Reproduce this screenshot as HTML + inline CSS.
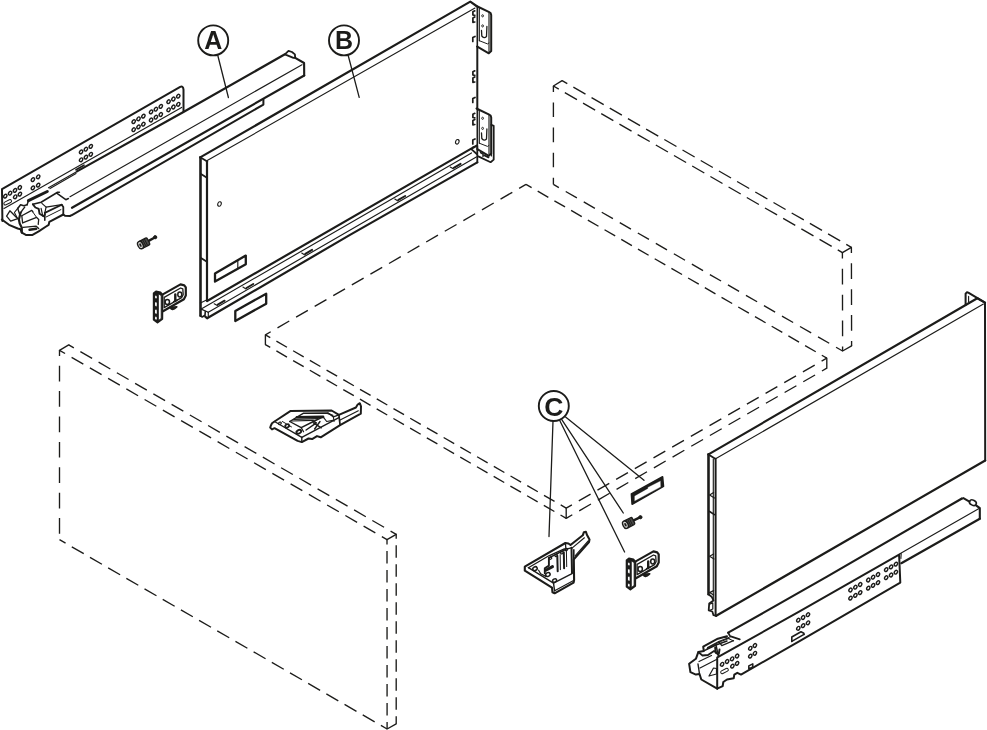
<!DOCTYPE html>
<html><head><meta charset="utf-8"><title>Drawer assembly</title>
<style>
html,body{margin:0;padding:0;background:#fff;}
body{width:987px;height:730px;overflow:hidden;font-family:"Liberation Sans",sans-serif;}
svg{display:block;}
text{font-family:"Liberation Sans",sans-serif;}
svg{will-change:transform;}
</style></head><body>
<svg width="987" height="730" viewBox="0 0 987 730">
<rect width="987" height="730" fill="#fff"/>
<line x1="59.5" y1="350.3" x2="68.7" y2="344.9" stroke="#1c1c1a" stroke-width="1.35" stroke-linecap="round"/>
<line x1="68.7" y1="344.9" x2="396.2" y2="534.3" stroke="#1c1c1a" stroke-width="1.35" stroke-dasharray="13.55 7.53" stroke-dashoffset="7.6"/>
<line x1="59.5" y1="350.3" x2="387.0" y2="539.6" stroke="#1c1c1a" stroke-width="1.35" stroke-dasharray="13.55 7.53" stroke-dashoffset="7.1"/>
<line x1="387.0" y1="539.6" x2="396.2" y2="534.3" stroke="#1c1c1a" stroke-width="1.35" stroke-linecap="round"/>
<line x1="59.5" y1="350.3" x2="59.5" y2="539.7" stroke="#1c1c1a" stroke-width="1.35" stroke-dasharray="15.7 9.7" stroke-dashoffset="10.0"/>
<line x1="59.5" y1="539.7" x2="387.1" y2="729.0" stroke="#1c1c1a" stroke-width="1.35" stroke-dasharray="13.8 7.2" stroke-dashoffset="6.8"/>
<line x1="387.0" y1="539.6" x2="387.1" y2="729.0" stroke="#1c1c1a" stroke-width="1.35" stroke-dasharray="12.6 6.4" stroke-dashoffset="7.6"/>
<line x1="396.2" y1="534.3" x2="396.2" y2="723.8" stroke="#1c1c1a" stroke-width="1.35" stroke-dasharray="12.6 6.4" stroke-dashoffset="8.1"/>
<line x1="387.1" y1="729.0" x2="396.2" y2="723.8" stroke="#1c1c1a" stroke-width="1.35" stroke-linecap="round"/>
<line x1="265.4" y1="334.8" x2="265.4" y2="344.6" stroke="#1c1c1a" stroke-width="1.35" stroke-linecap="round"/>
<line x1="265.4" y1="334.8" x2="526.0" y2="184.4" stroke="#1c1c1a" stroke-width="1.35" stroke-dasharray="13.6 7.86" stroke-dashoffset="7.5"/>
<line x1="526.0" y1="184.4" x2="826.8" y2="358.1" stroke="#1c1c1a" stroke-width="1.35" stroke-dasharray="12.3 7.0" stroke-dashoffset="5.8"/>
<line x1="265.4" y1="334.8" x2="566.2" y2="508.1" stroke="#1c1c1a" stroke-width="1.35" stroke-dasharray="12.2 7.1" stroke-dashoffset="6.6"/>
<line x1="265.4" y1="344.6" x2="566.2" y2="518.3" stroke="#1c1c1a" stroke-width="1.35" stroke-dasharray="12.2 7.1" stroke-dashoffset="6.6"/>
<line x1="826.8" y1="358.1" x2="566.2" y2="508.1" stroke="#1c1c1a" stroke-width="1.35" stroke-dasharray="13.6 7.95" stroke-dashoffset="7.6"/>
<line x1="826.8" y1="368.2" x2="566.2" y2="518.3" stroke="#1c1c1a" stroke-width="1.35" stroke-dasharray="13.6 7.95" stroke-dashoffset="8.0"/>
<line x1="826.8" y1="358.1" x2="826.8" y2="368.2" stroke="#1c1c1a" stroke-width="1.35" stroke-linecap="round"/>
<line x1="566.2" y1="508.1" x2="566.2" y2="518.3" stroke="#1c1c1a" stroke-width="1.35" stroke-linecap="round"/>
<line x1="553.4" y1="86.0" x2="562.1" y2="80.6" stroke="#1c1c1a" stroke-width="1.35" stroke-linecap="round"/>
<line x1="562.1" y1="80.6" x2="851.4" y2="247.4" stroke="#1c1c1a" stroke-width="1.35" stroke-dasharray="14.0 7.0" stroke-dashoffset="8.0"/>
<line x1="553.4" y1="86.0" x2="842.4" y2="252.6" stroke="#1c1c1a" stroke-width="1.35" stroke-dasharray="14.0 7.0" stroke-dashoffset="7.8"/>
<line x1="842.4" y1="252.6" x2="851.4" y2="247.4" stroke="#1c1c1a" stroke-width="1.35" stroke-linecap="round"/>
<line x1="553.4" y1="86.0" x2="553.4" y2="184.4" stroke="#1c1c1a" stroke-width="1.35" stroke-dasharray="14.6 10.5" stroke-dashoffset="8.6"/>
<line x1="553.4" y1="184.4" x2="842.6" y2="351.0" stroke="#1c1c1a" stroke-width="1.35" stroke-dasharray="12.9 7.9" stroke-dashoffset="6.6"/>
<line x1="842.4" y1="252.6" x2="842.6" y2="351.0" stroke="#1c1c1a" stroke-width="1.35" stroke-dasharray="15.7 10.2" stroke-dashoffset="9.7"/>
<line x1="851.4" y1="247.4" x2="851.6" y2="345.9" stroke="#1c1c1a" stroke-width="1.35" stroke-dasharray="15.7 10.2" stroke-dashoffset="10.0"/>
<line x1="842.6" y1="351.0" x2="851.6" y2="345.9" stroke="#1c1c1a" stroke-width="1.35" stroke-linecap="round"/>
<polyline points="200.2,157.4 470.3,1.6 476.5,6.0" fill="none" stroke="#1c1c1a" stroke-width="2.2" stroke-linejoin="round" stroke-linecap="round" />
<line x1="207.2" y1="160.6" x2="475.0" y2="8.0" stroke="#1c1c1a" stroke-width="1.15" stroke-linecap="round"/>
<polyline points="200.5,157.4 200.5,315.8" fill="none" stroke="#1c1c1a" stroke-width="2.6" stroke-linejoin="round" stroke-linecap="round" />
<polyline points="200.2,157.2 206.9,161.3" fill="none" stroke="#1c1c1a" stroke-width="1.8" stroke-linejoin="round" stroke-linecap="round" />
<polyline points="207.0,161.3 207.0,300.6" fill="none" stroke="#1c1c1a" stroke-width="2.2" stroke-linejoin="round" stroke-linecap="round" />
<polyline points="201.0,174.0 206.9,177.7" fill="none" stroke="#1c1c1a" stroke-width="1.8" stroke-linejoin="round" stroke-linecap="round" />
<polyline points="201.0,258.0 206.9,261.8" fill="none" stroke="#1c1c1a" stroke-width="1.8" stroke-linejoin="round" stroke-linecap="round" />
<polyline points="207.1,301.0 473.4,147.4" fill="none" stroke="#1c1c1a" stroke-width="2.2" stroke-linejoin="round" stroke-linecap="round" />
<line x1="201.2" y1="309.1" x2="471.5" y2="152.9" stroke="#1c1c1a" stroke-width="1.15" stroke-linecap="round"/>
<line x1="208.3" y1="312.2" x2="476.3" y2="156.9" stroke="#1c1c1a" stroke-width="1.15" stroke-linecap="round"/>
<line x1="201.2" y1="309.1" x2="208.3" y2="312.2" stroke="#1c1c1a" stroke-width="1.15" stroke-linecap="round"/>
<line x1="208.3" y1="312.2" x2="208.3" y2="317.6" stroke="#1c1c1a" stroke-width="1.15" stroke-linecap="round"/>
<line x1="200.4" y1="303.0" x2="206.6" y2="300.0" stroke="#1c1c1a" stroke-width="1.15" stroke-linecap="round"/>
<polyline points="200.4,315.8 202.2,317.0 205.0,315.3 205.3,311.5" fill="none" stroke="#1c1c1a" stroke-width="1.6" stroke-linejoin="round" stroke-linecap="round" />
<polyline points="205.3,316.6 207.1,318.3 350.0,234.9 477.3,162.4" fill="none" stroke="#1c1c1a" stroke-width="2.2" stroke-linejoin="round" stroke-linecap="round" />
<line x1="214.2" y1="303.8" x2="217.3" y2="305.6" stroke="#1c1c1a" stroke-width="1.15" stroke-linecap="round"/>
<line x1="217.8" y1="304.6" x2="224.6" y2="300.7" stroke="#1c1c1a" stroke-width="2.0" stroke-linecap="round"/>
<line x1="242.9" y1="287.1" x2="246.0" y2="288.9" stroke="#1c1c1a" stroke-width="1.15" stroke-linecap="round"/>
<line x1="246.5" y1="288.0" x2="253.3" y2="284.0" stroke="#1c1c1a" stroke-width="2.0" stroke-linecap="round"/>
<line x1="301.7" y1="253.1" x2="304.8" y2="254.9" stroke="#1c1c1a" stroke-width="1.15" stroke-linecap="round"/>
<line x1="305.3" y1="253.9" x2="312.1" y2="249.9" stroke="#1c1c1a" stroke-width="2.0" stroke-linecap="round"/>
<line x1="394.8" y1="199.1" x2="397.9" y2="200.9" stroke="#1c1c1a" stroke-width="1.15" stroke-linecap="round"/>
<line x1="398.4" y1="199.9" x2="405.2" y2="196.0" stroke="#1c1c1a" stroke-width="2.0" stroke-linecap="round"/>
<line x1="450.2" y1="167.0" x2="453.3" y2="168.8" stroke="#1c1c1a" stroke-width="1.15" stroke-linecap="round"/>
<line x1="453.8" y1="167.8" x2="460.6" y2="163.9" stroke="#1c1c1a" stroke-width="2.0" stroke-linecap="round"/>
<polyline points="477.3,46.6 477.3,108.6" fill="none" stroke="#1c1c1a" stroke-width="2.0" stroke-linejoin="round" stroke-linecap="round" />
<polyline points="477.3,146.0 477.3,162.4" fill="none" stroke="#1c1c1a" stroke-width="1.8" stroke-linejoin="round" stroke-linecap="round" />
<polyline points="473.4,147.4 477.0,145.6" fill="none" stroke="#1c1c1a" stroke-width="2.2" stroke-linejoin="round" stroke-linecap="round" />
<polyline points="471.6,149.3 476.8,154.0" fill="none" stroke="#1c1c1a" stroke-width="1.8" stroke-linejoin="round" stroke-linecap="round" />
<polyline points="480.5,152.6 483.0,154.2 483.0,156.4" fill="none" stroke="#1c1c1a" stroke-width="1.4" stroke-linejoin="round" stroke-linecap="round" />
<polyline points="484.0,155.2 488.5,157.4" fill="none" stroke="#1c1c1a" stroke-width="1.8" stroke-linejoin="round" stroke-linecap="round" />
<ellipse cx="219.5" cy="204.0" rx="1.7" ry="2.3" transform="rotate(20 219.5 204.0)" fill="none" stroke="#1c1c1a" stroke-width="1.1"/>
<ellipse cx="457.3" cy="141.8" rx="1.7" ry="2.3" transform="rotate(20 457.3 141.8)" fill="none" stroke="#1c1c1a" stroke-width="1.1"/>
<polygon points="215.0,273.4 245.8,255.6 245.8,264.2 215.0,281.6" fill="none" stroke="#1c1c1a" stroke-width="2.3" stroke-linejoin="round" stroke-linecap="round" />
<line x1="237.8" y1="260.3" x2="237.8" y2="268.6" stroke="#1c1c1a" stroke-width="1.15" stroke-linecap="round"/>
<polygon points="235.3,310.9 266.2,293.7 266.2,303.7 235.3,321.0" fill="none" stroke="#1c1c1a" stroke-width="2.3" stroke-linejoin="round" stroke-linecap="round" />
<polyline points="476.5,6.0 488.7,11.8 490.6,13.0 491.2,15.0 491.2,51.0 488.8,53.3 477.3,46.6" fill="none" stroke="#1c1c1a" stroke-width="2.0" stroke-linejoin="round" stroke-linecap="round" />
<line x1="477.3" y1="7.0" x2="477.3" y2="46.6" stroke="#1c1c1a" stroke-width="1.6" stroke-linecap="round"/>
<line x1="479.3" y1="7.8" x2="479.3" y2="40.7" stroke="#1c1c1a" stroke-width="1.15" stroke-linecap="round"/>
<line x1="489.0" y1="13.0" x2="489.0" y2="51.5" stroke="#1c1c1a" stroke-width="1.15" stroke-linecap="round"/>
<polyline points="479.3,40.7 487.5,43.9 488.9,43.0" fill="none" stroke="#1c1c1a" stroke-width="1.0" stroke-linejoin="round" stroke-linecap="round" />
<ellipse cx="482.6" cy="15.8" rx="0.9" ry="1.1" transform="rotate(0 482.6 15.8)" fill="none" stroke="#1c1c1a" stroke-width="0.9"/>
<ellipse cx="482.6" cy="25.9" rx="0.9" ry="1.1" transform="rotate(0 482.6 25.9)" fill="none" stroke="#1c1c1a" stroke-width="0.9"/>
<path d="M481.5,30.5 L481.8,36.0 Q484.0,39.0 486.5,36.5 L486.9,26.5" fill="none" stroke="#1c1c1a" stroke-width="1.3" stroke-linejoin="round" stroke-linecap="round"/>
<polyline points="474.8,10.8 472.9,11.8 472.9,15.0 474.8,15.4" fill="none" stroke="#1c1c1a" stroke-width="1.7" stroke-linejoin="round" stroke-linecap="round" />
<polyline points="474.8,17.0 472.9,18.0 472.9,22.3 474.8,22.0" fill="none" stroke="#1c1c1a" stroke-width="1.7" stroke-linejoin="round" stroke-linecap="round" />
<polyline points="475.0,36.5 472.8,37.5 472.8,41.5" fill="none" stroke="#1c1c1a" stroke-width="1.7" stroke-linejoin="round" stroke-linecap="round" />
<polyline points="476.5,108.5 488.7,114.3 490.6,115.5 491.2,117.5 491.2,153.5 488.8,155.8 477.3,149.1" fill="none" stroke="#1c1c1a" stroke-width="2.0" stroke-linejoin="round" stroke-linecap="round" />
<line x1="477.3" y1="109.5" x2="477.3" y2="149.1" stroke="#1c1c1a" stroke-width="1.6" stroke-linecap="round"/>
<line x1="479.3" y1="110.3" x2="479.3" y2="143.2" stroke="#1c1c1a" stroke-width="1.15" stroke-linecap="round"/>
<line x1="489.0" y1="115.5" x2="489.0" y2="154.0" stroke="#1c1c1a" stroke-width="1.15" stroke-linecap="round"/>
<polyline points="479.3,143.2 487.5,146.4 488.9,145.5" fill="none" stroke="#1c1c1a" stroke-width="1.0" stroke-linejoin="round" stroke-linecap="round" />
<ellipse cx="482.6" cy="118.3" rx="0.9" ry="1.1" transform="rotate(0 482.6 118.3)" fill="none" stroke="#1c1c1a" stroke-width="0.9"/>
<ellipse cx="482.6" cy="128.4" rx="0.9" ry="1.1" transform="rotate(0 482.6 128.4)" fill="none" stroke="#1c1c1a" stroke-width="0.9"/>
<path d="M481.5,133.0 L481.8,138.5 Q484.0,141.5 486.5,139.0 L486.9,129.0" fill="none" stroke="#1c1c1a" stroke-width="1.3" stroke-linejoin="round" stroke-linecap="round"/>
<polyline points="474.8,113.3 472.9,114.3 472.9,117.5 474.8,117.9" fill="none" stroke="#1c1c1a" stroke-width="1.7" stroke-linejoin="round" stroke-linecap="round" />
<polyline points="474.8,119.5 472.9,120.5 472.9,124.8 474.8,124.5" fill="none" stroke="#1c1c1a" stroke-width="1.7" stroke-linejoin="round" stroke-linecap="round" />
<polyline points="475.0,139.0 472.8,140.0 472.8,144.0" fill="none" stroke="#1c1c1a" stroke-width="1.7" stroke-linejoin="round" stroke-linecap="round" />
<polyline points="474.8,70.8 472.9,71.8 472.9,75.0 474.8,75.4" fill="none" stroke="#1c1c1a" stroke-width="1.7" stroke-linejoin="round" stroke-linecap="round" />
<polyline points="474.8,77.0 472.9,78.0 472.9,82.3 474.8,82.0" fill="none" stroke="#1c1c1a" stroke-width="1.7" stroke-linejoin="round" stroke-linecap="round" />
<polyline points="475.0,97.5 472.8,98.5 472.8,102.5" fill="none" stroke="#1c1c1a" stroke-width="1.7" stroke-linejoin="round" stroke-linecap="round" />
<polyline points="491.4,124.8 493.7,125.8 493.7,159.6 490.6,162.2 478.3,156.4" fill="none" stroke="#1c1c1a" stroke-width="1.8" stroke-linejoin="round" stroke-linecap="round" />
<line x1="491.4" y1="124.8" x2="491.4" y2="156.0" stroke="#1c1c1a" stroke-width="1.15" stroke-linecap="round"/>
<polyline points="708.5,594.3 708.5,454.4" fill="none" stroke="#1c1c1a" stroke-width="2.6" stroke-linejoin="round" stroke-linecap="round" />
<polyline points="708.5,454.4 977.3,298.3 985.0,302.6" fill="none" stroke="#1c1c1a" stroke-width="2.2" stroke-linejoin="round" stroke-linecap="round" />
<polyline points="965.6,305.0 965.6,293.6 967.0,292.2 968.3,292.6 985.0,302.6 985.2,460.5" fill="none" stroke="#1c1c1a" stroke-width="2.0" stroke-linejoin="round" stroke-linecap="round" />
<line x1="968.6" y1="296.4" x2="968.6" y2="302.0" stroke="#1c1c1a" stroke-width="1.15" stroke-linecap="round"/>
<line x1="715.6" y1="458.8" x2="983.4" y2="304.0" stroke="#1c1c1a" stroke-width="1.15" stroke-linecap="round"/>
<polyline points="708.5,454.4 714.8,458.6" fill="none" stroke="#1c1c1a" stroke-width="1.8" stroke-linejoin="round" stroke-linecap="round" />
<polyline points="715.6,458.8 715.6,615.4" fill="none" stroke="#1c1c1a" stroke-width="2.0" stroke-linejoin="round" stroke-linecap="round" />
<line x1="713.3" y1="459.0" x2="713.3" y2="600.4" stroke="#1c1c1a" stroke-width="1.15" stroke-linecap="round"/>
<polyline points="716.2,615.8 985.2,460.5" fill="none" stroke="#1c1c1a" stroke-width="2.2" stroke-linejoin="round" stroke-linecap="round" />
<polyline points="713.6,492.4 709.6,494.9 714.4,498.0" fill="none" stroke="#1c1c1a" stroke-width="1.2" stroke-linejoin="round" stroke-linecap="round" />
<polyline points="709.6,511.5 714.4,514.6" fill="none" stroke="#1c1c1a" stroke-width="1.7" stroke-linejoin="round" stroke-linecap="round" />
<polyline points="713.6,554.0 709.6,556.2 714.0,559.0" fill="none" stroke="#1c1c1a" stroke-width="1.2" stroke-linejoin="round" stroke-linecap="round" />
<polyline points="713.6,590.6 709.6,592.6 713.6,595.0" fill="none" stroke="#1c1c1a" stroke-width="1.2" stroke-linejoin="round" stroke-linecap="round" />
<polyline points="708.5,594.3 711.6,596.7 713.5,600.4 709.2,603.5 708.7,610.3 712.3,611.5 713.5,615.2 716.2,615.8" fill="none" stroke="#1c1c1a" stroke-width="1.8" stroke-linejoin="round" stroke-linecap="round" />
<polyline points="709.6,604.2 712.8,602.9 712.8,609.0 710.0,610.2" fill="none" stroke="#1c1c1a" stroke-width="1.2" stroke-linejoin="round" stroke-linecap="round" />
<line x1="217.8" y1="55.5" x2="228.4" y2="97.5" stroke="#1c1c1a" stroke-width="1.3" stroke-linecap="round"/>
<line x1="348.2" y1="55.5" x2="359.2" y2="97.4" stroke="#1c1c1a" stroke-width="1.3" stroke-linecap="round"/>
<line x1="553.0" y1="421.0" x2="549.0" y2="536.6" stroke="#1c1c1a" stroke-width="1.3" stroke-linecap="round"/>
<line x1="559.5" y1="420.0" x2="624.6" y2="552.0" stroke="#1c1c1a" stroke-width="1.3" stroke-linecap="round"/>
<line x1="561.8" y1="419.6" x2="623.3" y2="513.0" stroke="#1c1c1a" stroke-width="1.3" stroke-linecap="round"/>
<line x1="565.6" y1="417.0" x2="644.0" y2="480.3" stroke="#1c1c1a" stroke-width="1.3" stroke-linecap="round"/>
<circle cx="213.2" cy="40.4" r="15.0" fill="#fff" stroke="#1c1c1a" stroke-width="1.9"/>
<text x="213.2" y="49.3" font-size="25" font-weight="bold" text-anchor="middle" fill="#1c1c1a">A</text>
<circle cx="344.0" cy="40.4" r="15.0" fill="#fff" stroke="#1c1c1a" stroke-width="1.9"/>
<text x="344.0" y="49.3" font-size="25" font-weight="bold" text-anchor="middle" fill="#1c1c1a">B</text>
<circle cx="553.8" cy="406.0" r="15.0" fill="#fff" stroke="#1c1c1a" stroke-width="1.9"/>
<text x="553.8" y="415.5" font-size="26.5" font-weight="bold" text-anchor="middle" fill="#1c1c1a">C</text>
<path d="M2.4,221.0 L2.0,189.2 L180.2,86.9 Q183.2,85.6 183.5,89.6 L183.5,111.6" fill="none" stroke="#1c1c1a" stroke-width="2.0" stroke-linejoin="round" stroke-linecap="round"/>
<line x1="4.0" y1="208.4" x2="181.6" y2="107.4" stroke="#1c1c1a" stroke-width="1.15" stroke-linecap="round"/>
<polyline points="77.0,171.4 183.0,112.3 284.9,54.3" fill="none" stroke="#1c1c1a" stroke-width="2.2" stroke-linejoin="round" stroke-linecap="round" />
<line x1="77.0" y1="171.4" x2="48.5" y2="187.8" stroke="#1c1c1a" stroke-width="1.15" stroke-linecap="round"/>
<line x1="76.0" y1="173.6" x2="50.0" y2="188.6" stroke="#1c1c1a" stroke-width="1.15" stroke-linecap="round"/>
<polygon points="284.9,54.3 288.5,50.8 292.0,52.0 294.9,54.4 295.2,57.8 293.4,57.8" fill="none" stroke="#1c1c1a" stroke-width="1.8" stroke-linejoin="round" stroke-linecap="round" />
<polyline points="295.2,57.8 304.1,63.0 304.2,75.5" fill="none" stroke="#1c1c1a" stroke-width="2.1" stroke-linejoin="round" stroke-linecap="round" />
<line x1="302.0" y1="64.7" x2="70.0" y2="196.8" stroke="#1c1c1a" stroke-width="1.15" stroke-linecap="round"/>
<polyline points="304.2,75.5 72.0,207.8" fill="none" stroke="#1c1c1a" stroke-width="2.2" stroke-linejoin="round" stroke-linecap="round" />
<polyline points="263.4,99.4 263.4,104.6 71.5,215.3 69.9,215.9" fill="none" stroke="#1c1c1a" stroke-width="2.0" stroke-linejoin="round" stroke-linecap="round" />
<ellipse cx="168.6" cy="101.7" rx="2.0" ry="1.45" transform="rotate(-58 168.6 101.7)" fill="none" stroke="#1c1c1a" stroke-width="1.4"/>
<ellipse cx="173.4" cy="99.0" rx="2.0" ry="1.45" transform="rotate(-58 173.4 99.0)" fill="none" stroke="#1c1c1a" stroke-width="1.4"/>
<ellipse cx="178.3" cy="96.2" rx="2.0" ry="1.45" transform="rotate(-58 178.3 96.2)" fill="none" stroke="#1c1c1a" stroke-width="1.4"/>
<ellipse cx="168.6" cy="109.8" rx="2.0" ry="1.45" transform="rotate(-58 168.6 109.8)" fill="none" stroke="#1c1c1a" stroke-width="1.4"/>
<ellipse cx="173.4" cy="107.0" rx="2.0" ry="1.45" transform="rotate(-58 173.4 107.0)" fill="none" stroke="#1c1c1a" stroke-width="1.4"/>
<ellipse cx="178.3" cy="104.3" rx="2.0" ry="1.45" transform="rotate(-58 178.3 104.3)" fill="none" stroke="#1c1c1a" stroke-width="1.4"/>
<ellipse cx="151.1" cy="111.9" rx="2.0" ry="1.45" transform="rotate(-58 151.1 111.9)" fill="none" stroke="#1c1c1a" stroke-width="1.4"/>
<ellipse cx="155.9" cy="109.2" rx="2.0" ry="1.45" transform="rotate(-58 155.9 109.2)" fill="none" stroke="#1c1c1a" stroke-width="1.4"/>
<ellipse cx="160.8" cy="106.4" rx="2.0" ry="1.45" transform="rotate(-58 160.8 106.4)" fill="none" stroke="#1c1c1a" stroke-width="1.4"/>
<ellipse cx="151.1" cy="120.0" rx="2.0" ry="1.45" transform="rotate(-58 151.1 120.0)" fill="none" stroke="#1c1c1a" stroke-width="1.4"/>
<ellipse cx="155.9" cy="117.2" rx="2.0" ry="1.45" transform="rotate(-58 155.9 117.2)" fill="none" stroke="#1c1c1a" stroke-width="1.4"/>
<ellipse cx="160.8" cy="114.5" rx="2.0" ry="1.45" transform="rotate(-58 160.8 114.5)" fill="none" stroke="#1c1c1a" stroke-width="1.4"/>
<ellipse cx="133.7" cy="121.6" rx="2.0" ry="1.45" transform="rotate(-58 133.7 121.6)" fill="none" stroke="#1c1c1a" stroke-width="1.4"/>
<ellipse cx="138.5" cy="118.8" rx="2.0" ry="1.45" transform="rotate(-58 138.5 118.8)" fill="none" stroke="#1c1c1a" stroke-width="1.4"/>
<ellipse cx="143.4" cy="116.1" rx="2.0" ry="1.45" transform="rotate(-58 143.4 116.1)" fill="none" stroke="#1c1c1a" stroke-width="1.4"/>
<ellipse cx="133.7" cy="129.7" rx="2.0" ry="1.45" transform="rotate(-58 133.7 129.7)" fill="none" stroke="#1c1c1a" stroke-width="1.4"/>
<ellipse cx="138.5" cy="126.9" rx="2.0" ry="1.45" transform="rotate(-58 138.5 126.9)" fill="none" stroke="#1c1c1a" stroke-width="1.4"/>
<ellipse cx="143.4" cy="124.2" rx="2.0" ry="1.45" transform="rotate(-58 143.4 124.2)" fill="none" stroke="#1c1c1a" stroke-width="1.4"/>
<ellipse cx="81.1" cy="151.9" rx="2.0" ry="1.45" transform="rotate(-58 81.1 151.9)" fill="none" stroke="#1c1c1a" stroke-width="1.4"/>
<ellipse cx="85.9" cy="149.2" rx="2.0" ry="1.45" transform="rotate(-58 85.9 149.2)" fill="none" stroke="#1c1c1a" stroke-width="1.4"/>
<ellipse cx="90.8" cy="146.4" rx="2.0" ry="1.45" transform="rotate(-58 90.8 146.4)" fill="none" stroke="#1c1c1a" stroke-width="1.4"/>
<ellipse cx="81.1" cy="159.8" rx="2.0" ry="1.45" transform="rotate(-58 81.1 159.8)" fill="none" stroke="#1c1c1a" stroke-width="1.4"/>
<ellipse cx="85.9" cy="157.1" rx="2.0" ry="1.45" transform="rotate(-58 85.9 157.1)" fill="none" stroke="#1c1c1a" stroke-width="1.4"/>
<ellipse cx="90.8" cy="154.3" rx="2.0" ry="1.45" transform="rotate(-58 90.8 154.3)" fill="none" stroke="#1c1c1a" stroke-width="1.4"/>
<ellipse cx="32.9" cy="179.6" rx="2.0" ry="1.45" transform="rotate(-58 32.9 179.6)" fill="none" stroke="#1c1c1a" stroke-width="1.4"/>
<ellipse cx="38.2" cy="176.8" rx="2.0" ry="1.45" transform="rotate(-58 38.2 176.8)" fill="none" stroke="#1c1c1a" stroke-width="1.4"/>
<ellipse cx="32.9" cy="187.9" rx="2.0" ry="1.45" transform="rotate(-58 32.9 187.9)" fill="none" stroke="#1c1c1a" stroke-width="1.4"/>
<ellipse cx="38.2" cy="185.1" rx="2.0" ry="1.45" transform="rotate(-58 38.2 185.1)" fill="none" stroke="#1c1c1a" stroke-width="1.4"/>
<ellipse cx="5.3" cy="196.1" rx="2.0" ry="1.45" transform="rotate(-58 5.3 196.1)" fill="none" stroke="#1c1c1a" stroke-width="1.4"/>
<ellipse cx="10.1" cy="193.2" rx="2.0" ry="1.45" transform="rotate(-58 10.1 193.2)" fill="none" stroke="#1c1c1a" stroke-width="1.4"/>
<ellipse cx="15.0" cy="190.4" rx="2.0" ry="1.45" transform="rotate(-58 15.0 190.4)" fill="none" stroke="#1c1c1a" stroke-width="1.4"/>
<ellipse cx="19.8" cy="187.5" rx="2.0" ry="1.45" transform="rotate(-58 19.8 187.5)" fill="none" stroke="#1c1c1a" stroke-width="1.4"/>
<ellipse cx="15.2" cy="196.8" rx="2.0" ry="1.45" transform="rotate(-58 15.2 196.8)" fill="none" stroke="#1c1c1a" stroke-width="1.4"/>
<ellipse cx="19.9" cy="194.1" rx="2.0" ry="1.45" transform="rotate(-58 19.9 194.1)" fill="none" stroke="#1c1c1a" stroke-width="1.4"/>
<rect x="3.6" y="200.8" width="8.2" height="3.0" rx="1.5" transform="rotate(-27 7.7 202.3)" fill="none" stroke="#1c1c1a" stroke-width="1.0"/>
<polyline points="76.0,169.8 84.0,165.2" fill="none" stroke="#1c1c1a" stroke-width="1.6" stroke-linejoin="round" stroke-linecap="round" />
<polyline points="28.4,200.7 47.3,191.5" fill="none" stroke="#1c1c1a" stroke-width="3.0" stroke-linejoin="round" stroke-linecap="round" />
<polyline points="27.1,204.7 28.4,200.7" fill="none" stroke="#1c1c1a" stroke-width="1.4" stroke-linejoin="round" stroke-linecap="round" />
<polyline points="1.8,219.5 9.0,224.8 17.7,228.5 20.6,229.3 21.8,232.6 26.3,235.1 32.1,235.1 38.7,231.4 46.1,226.5 48.7,224.8 49.3,221.9 63.3,214.5 65.0,215.8 69.9,215.9" fill="none" stroke="#1c1c1a" stroke-width="2.0" stroke-linejoin="round" stroke-linecap="round" />
<polyline points="61.7,204.7 63.3,207.1 63.3,214.5" fill="none" stroke="#1c1c1a" stroke-width="1.8" stroke-linejoin="round" stroke-linecap="round" />
<polyline points="44.8,212.9 61.7,204.7" fill="none" stroke="#1c1c1a" stroke-width="1.8" stroke-linejoin="round" stroke-linecap="round" />
<polyline points="44.8,212.9 44.8,220.3" fill="none" stroke="#1c1c1a" stroke-width="1.6" stroke-linejoin="round" stroke-linecap="round" />
<polyline points="46.1,217.0 60.9,209.6" fill="none" stroke="#1c1c1a" stroke-width="1.0" stroke-linejoin="round" stroke-linecap="round" />
<polyline points="32.9,204.3 41.1,202.2 57.6,192.3 59.4,192.3" fill="none" stroke="#1c1c1a" stroke-width="1.6" stroke-linejoin="round" stroke-linecap="round" />
<polyline points="56.7,193.2 65.8,199.7 68.4,198.5" fill="none" stroke="#1c1c1a" stroke-width="1.5" stroke-linejoin="round" stroke-linecap="round" />
<polyline points="41.9,203.4 46.1,207.1 61.7,204.7" fill="none" stroke="#1c1c1a" stroke-width="1.2" stroke-linejoin="round" stroke-linecap="round" />
<polyline points="46.1,207.1 44.8,212.9" fill="none" stroke="#1c1c1a" stroke-width="1.2" stroke-linejoin="round" stroke-linecap="round" />
<polyline points="32.9,204.3 35.4,207.5 38.7,208.9 39.5,213.7 43.6,216.2 44.8,214.5" fill="none" stroke="#1c1c1a" stroke-width="1.9" stroke-linejoin="round" stroke-linecap="round" />
<polyline points="41.1,208.4 42.8,216.2" fill="none" stroke="#1c1c1a" stroke-width="1.2" stroke-linejoin="round" stroke-linecap="round" />
<polyline points="17.7,208.4 20.6,204.7 23.8,205.7 27.1,204.7" fill="none" stroke="#1c1c1a" stroke-width="1.6" stroke-linejoin="round" stroke-linecap="round" />
<polyline points="17.7,208.4 19.7,214.5 22.2,210.4 24.7,207.1" fill="none" stroke="#1c1c1a" stroke-width="1.4" stroke-linejoin="round" stroke-linecap="round" />
<polygon points="6.6,216.2 9.9,210.8 17.7,218.7 10.7,221.1" fill="none" stroke="#1c1c1a" stroke-width="1.3" stroke-linejoin="round" stroke-linecap="round" />
<polyline points="17.7,218.7 14.4,212.5 17.7,208.4" fill="none" stroke="#1c1c1a" stroke-width="1.1" stroke-linejoin="round" stroke-linecap="round" />
<polyline points="20.6,212.5 18.9,219.5 19.7,223.6 21.8,227.7 21.8,232.6" fill="none" stroke="#1c1c1a" stroke-width="2.2" stroke-linejoin="round" stroke-linecap="round" />
<polyline points="21.8,215.8 31.7,210.4 32.9,211.7" fill="none" stroke="#1c1c1a" stroke-width="1.3" stroke-linejoin="round" stroke-linecap="round" />
<polyline points="22.6,222.8 36.6,217.4 38.7,219.5 38.2,224.4" fill="none" stroke="#1c1c1a" stroke-width="1.3" stroke-linejoin="round" stroke-linecap="round" />
<polyline points="21.8,215.8 22.6,222.8" fill="none" stroke="#1c1c1a" stroke-width="1.3" stroke-linejoin="round" stroke-linecap="round" />
<polyline points="23.0,227.3 36.2,226.1 38.7,228.5" fill="none" stroke="#1c1c1a" stroke-width="1.3" stroke-linejoin="round" stroke-linecap="round" />
<polyline points="29.6,229.8 36.2,228.7" fill="none" stroke="#1c1c1a" stroke-width="2.6" stroke-linejoin="round" stroke-linecap="round" />
<polyline points="31.7,210.4 36.6,217.4" fill="none" stroke="#1c1c1a" stroke-width="1.0" stroke-linejoin="round" stroke-linecap="round" />
<polyline points="728.2,632.6 764.1,612.4 827.0,576.6 961.5,498.7" fill="none" stroke="#1c1c1a" stroke-width="2.2" stroke-linejoin="round" stroke-linecap="round" />
<polyline points="961.5,498.7 963.4,498.1 969.4,501.6" fill="none" stroke="#1c1c1a" stroke-width="2.0" stroke-linejoin="round" stroke-linecap="round" />
<ellipse cx="972.9" cy="502.7" rx="3.6" ry="2.5" transform="rotate(28 972.9 502.7)" fill="none" stroke="#1c1c1a" stroke-width="1.6"/>
<polyline points="976.4,505.6 979.8,508.2 979.8,518.7" fill="none" stroke="#1c1c1a" stroke-width="2.1" stroke-linejoin="round" stroke-linecap="round" />
<line x1="978.6" y1="508.7" x2="899.9" y2="553.7" stroke="#1c1c1a" stroke-width="1.15" stroke-linecap="round"/>
<polyline points="979.8,518.7 901.3,563.2" fill="none" stroke="#1c1c1a" stroke-width="2.2" stroke-linejoin="round" stroke-linecap="round" />
<polyline points="717.4,657.4 800.0,611.2 899.1,554.6 900.3,582.6 800.0,640.8 741.0,674.6 737.3,672.8 734.3,674.6 733.7,678.3 727.0,679.5 723.3,682.0 722.7,686.2 717.2,688.7 717.2,657.6" fill="none" stroke="#1c1c1a" stroke-width="2.0" stroke-linejoin="round" stroke-linecap="round" />
<polyline points="900.0,553.8 901.2,553.6 900.9,558.4" fill="none" stroke="#1c1c1a" stroke-width="1.1" stroke-linejoin="round" stroke-linecap="round" />
<ellipse cx="886.2" cy="569.6" rx="2.0" ry="1.45" transform="rotate(-58 886.2 569.6)" fill="none" stroke="#1c1c1a" stroke-width="1.4"/>
<ellipse cx="891.1" cy="566.9" rx="2.0" ry="1.45" transform="rotate(-58 891.1 566.9)" fill="none" stroke="#1c1c1a" stroke-width="1.4"/>
<ellipse cx="895.9" cy="564.1" rx="2.0" ry="1.45" transform="rotate(-58 895.9 564.1)" fill="none" stroke="#1c1c1a" stroke-width="1.4"/>
<ellipse cx="886.2" cy="577.7" rx="2.0" ry="1.45" transform="rotate(-58 886.2 577.7)" fill="none" stroke="#1c1c1a" stroke-width="1.4"/>
<ellipse cx="891.1" cy="575.0" rx="2.0" ry="1.45" transform="rotate(-58 891.1 575.0)" fill="none" stroke="#1c1c1a" stroke-width="1.4"/>
<ellipse cx="895.9" cy="572.2" rx="2.0" ry="1.45" transform="rotate(-58 895.9 572.2)" fill="none" stroke="#1c1c1a" stroke-width="1.4"/>
<ellipse cx="868.3" cy="580.0" rx="2.0" ry="1.45" transform="rotate(-58 868.3 580.0)" fill="none" stroke="#1c1c1a" stroke-width="1.4"/>
<ellipse cx="873.1" cy="577.2" rx="2.0" ry="1.45" transform="rotate(-58 873.1 577.2)" fill="none" stroke="#1c1c1a" stroke-width="1.4"/>
<ellipse cx="878.0" cy="574.5" rx="2.0" ry="1.45" transform="rotate(-58 878.0 574.5)" fill="none" stroke="#1c1c1a" stroke-width="1.4"/>
<ellipse cx="868.3" cy="588.1" rx="2.0" ry="1.45" transform="rotate(-58 868.3 588.1)" fill="none" stroke="#1c1c1a" stroke-width="1.4"/>
<ellipse cx="873.1" cy="585.4" rx="2.0" ry="1.45" transform="rotate(-58 873.1 585.4)" fill="none" stroke="#1c1c1a" stroke-width="1.4"/>
<ellipse cx="878.0" cy="582.6" rx="2.0" ry="1.45" transform="rotate(-58 878.0 582.6)" fill="none" stroke="#1c1c1a" stroke-width="1.4"/>
<ellipse cx="850.5" cy="590.0" rx="2.0" ry="1.45" transform="rotate(-58 850.5 590.0)" fill="none" stroke="#1c1c1a" stroke-width="1.4"/>
<ellipse cx="855.4" cy="587.2" rx="2.0" ry="1.45" transform="rotate(-58 855.4 587.2)" fill="none" stroke="#1c1c1a" stroke-width="1.4"/>
<ellipse cx="860.2" cy="584.5" rx="2.0" ry="1.45" transform="rotate(-58 860.2 584.5)" fill="none" stroke="#1c1c1a" stroke-width="1.4"/>
<ellipse cx="850.5" cy="598.1" rx="2.0" ry="1.45" transform="rotate(-58 850.5 598.1)" fill="none" stroke="#1c1c1a" stroke-width="1.4"/>
<ellipse cx="855.4" cy="595.4" rx="2.0" ry="1.45" transform="rotate(-58 855.4 595.4)" fill="none" stroke="#1c1c1a" stroke-width="1.4"/>
<ellipse cx="860.2" cy="592.6" rx="2.0" ry="1.45" transform="rotate(-58 860.2 592.6)" fill="none" stroke="#1c1c1a" stroke-width="1.4"/>
<ellipse cx="798.3" cy="620.2" rx="2.0" ry="1.45" transform="rotate(-58 798.3 620.2)" fill="none" stroke="#1c1c1a" stroke-width="1.4"/>
<ellipse cx="803.1" cy="617.5" rx="2.0" ry="1.45" transform="rotate(-58 803.1 617.5)" fill="none" stroke="#1c1c1a" stroke-width="1.4"/>
<ellipse cx="808.0" cy="614.7" rx="2.0" ry="1.45" transform="rotate(-58 808.0 614.7)" fill="none" stroke="#1c1c1a" stroke-width="1.4"/>
<ellipse cx="798.3" cy="628.3" rx="2.0" ry="1.45" transform="rotate(-58 798.3 628.3)" fill="none" stroke="#1c1c1a" stroke-width="1.4"/>
<ellipse cx="803.1" cy="625.6" rx="2.0" ry="1.45" transform="rotate(-58 803.1 625.6)" fill="none" stroke="#1c1c1a" stroke-width="1.4"/>
<ellipse cx="808.0" cy="622.8" rx="2.0" ry="1.45" transform="rotate(-58 808.0 622.8)" fill="none" stroke="#1c1c1a" stroke-width="1.4"/>
<ellipse cx="750.3" cy="648.3" rx="2.0" ry="1.45" transform="rotate(-58 750.3 648.3)" fill="none" stroke="#1c1c1a" stroke-width="1.4"/>
<ellipse cx="754.9" cy="645.5" rx="2.0" ry="1.45" transform="rotate(-58 754.9 645.5)" fill="none" stroke="#1c1c1a" stroke-width="1.4"/>
<ellipse cx="750.3" cy="656.1" rx="2.0" ry="1.45" transform="rotate(-58 750.3 656.1)" fill="none" stroke="#1c1c1a" stroke-width="1.4"/>
<ellipse cx="754.9" cy="653.3" rx="2.0" ry="1.45" transform="rotate(-58 754.9 653.3)" fill="none" stroke="#1c1c1a" stroke-width="1.4"/>
<ellipse cx="722.1" cy="664.3" rx="2.0" ry="1.45" transform="rotate(-58 722.1 664.3)" fill="none" stroke="#1c1c1a" stroke-width="1.4"/>
<ellipse cx="727.1" cy="661.5" rx="2.0" ry="1.45" transform="rotate(-58 727.1 661.5)" fill="none" stroke="#1c1c1a" stroke-width="1.4"/>
<ellipse cx="732.1" cy="658.8" rx="2.0" ry="1.45" transform="rotate(-58 732.1 658.8)" fill="none" stroke="#1c1c1a" stroke-width="1.4"/>
<ellipse cx="737.1" cy="656.0" rx="2.0" ry="1.45" transform="rotate(-58 737.1 656.0)" fill="none" stroke="#1c1c1a" stroke-width="1.4"/>
<ellipse cx="732.4" cy="666.1" rx="2.0" ry="1.45" transform="rotate(-58 732.4 666.1)" fill="none" stroke="#1c1c1a" stroke-width="1.4"/>
<ellipse cx="737.1" cy="663.4" rx="2.0" ry="1.45" transform="rotate(-58 737.1 663.4)" fill="none" stroke="#1c1c1a" stroke-width="1.4"/>
<rect x="720.4" y="669.5" width="8.2" height="3.0" rx="1.5" transform="rotate(-27 724.5 671.0)" fill="none" stroke="#1c1c1a" stroke-width="1.0"/>
<polygon points="748.8,665.8 752.8,663.8 752.8,666.8 748.8,668.8" fill="none" stroke="#1c1c1a" stroke-width="1.5" stroke-linejoin="round" stroke-linecap="round" />
<polyline points="791.8,641.4 791.8,637.0 801.0,631.8 803.8,633.2 804.0,634.4" fill="none" stroke="#1c1c1a" stroke-width="1.6" stroke-linejoin="round" stroke-linecap="round" />
<line x1="791.8" y1="641.4" x2="804.0" y2="634.4" stroke="#1c1c1a" stroke-width="1.6" stroke-linecap="round"/>
<polyline points="728.2,632.6 730.0,636.2 739.8,639.3" fill="none" stroke="#1c1c1a" stroke-width="1.8" stroke-linejoin="round" stroke-linecap="round" />
<polyline points="727.0,636.2 717.8,638.7 703.2,646.6 703.8,650.9 698.3,652.1 695.9,658.8 689.1,663.7 690.4,672.2 695.9,674.6 699.5,674.0 701.3,679.5 717.2,688.7" fill="none" stroke="#1c1c1a" stroke-width="2.0" stroke-linejoin="round" stroke-linecap="round" />
<polyline points="703.8,650.9 716.0,645.0 727.0,641.0" fill="none" stroke="#1c1c1a" stroke-width="1.4" stroke-linejoin="round" stroke-linecap="round" />
<polyline points="707.0,648.5 720.0,641.8 730.0,638.0" fill="none" stroke="#1c1c1a" stroke-width="1.0" stroke-linejoin="round" stroke-linecap="round" />
<polyline points="698.3,652.1 702.5,655.5 708.0,655.0 714.0,651.0 716.5,652.5 718.5,655.5" fill="none" stroke="#1c1c1a" stroke-width="1.8" stroke-linejoin="round" stroke-linecap="round" />
<polyline points="716.0,645.0 717.5,652.0" fill="none" stroke="#1c1c1a" stroke-width="1.4" stroke-linejoin="round" stroke-linecap="round" />
<polyline points="699.0,661.5 711.5,655.5" fill="none" stroke="#1c1c1a" stroke-width="1.2" stroke-linejoin="round" stroke-linecap="round" />
<polyline points="700.0,668.0 716.5,659.5" fill="none" stroke="#1c1c1a" stroke-width="1.2" stroke-linejoin="round" stroke-linecap="round" />
<polyline points="699.5,674.0 698.0,664.0" fill="none" stroke="#1c1c1a" stroke-width="1.4" stroke-linejoin="round" stroke-linecap="round" />
<polyline points="709.0,676.0 713.5,668.0 716.5,668.5 716.5,674.0 709.0,676.0" fill="none" stroke="#1c1c1a" stroke-width="1.2" stroke-linejoin="round" stroke-linecap="round" />
<polyline points="707.6,647.6 718.8,641.5 728.9,637.7" fill="none" stroke="#1c1c1a" stroke-width="1.3" stroke-linejoin="round" stroke-linecap="round" />
<polyline points="725.5,637.4 733.5,640.8" fill="none" stroke="#1c1c1a" stroke-width="1.0" stroke-linejoin="round" stroke-linecap="round" />
<polyline points="718.8,641.7 721.8,645.6 733.5,640.7" fill="none" stroke="#1c1c1a" stroke-width="1.3" stroke-linejoin="round" stroke-linecap="round" />
<polyline points="715.2,647.6 715.7,652.7 718.8,653.9 719.5,649.6" fill="none" stroke="#1c1c1a" stroke-width="2.0" stroke-linejoin="round" stroke-linecap="round" />
<polyline points="706.1,649.6 715.2,645.1" fill="none" stroke="#1c1c1a" stroke-width="1.0" stroke-linejoin="round" stroke-linecap="round" />
<line x1="148.2" y1="241.1" x2="155.2" y2="237.2" stroke="#1c1c1a" stroke-width="2.4" stroke-linecap="round"/>
<ellipse cx="155.2" cy="237.2" rx="1.6" ry="1.6" transform="rotate(0 155.2 237.2)" fill="#1c1c1a" stroke="#1c1c1a" stroke-width="1.0"/>
<g transform="rotate(-27 142.6 244.0)"><rect x="140.0" y="240.1" width="9.2" height="7.8" rx="1.4" fill="#4a4a48" stroke="#1c1c1a" stroke-width="1.3"/><path d="M142.8,240.4 v7.2 M144.6,240.4 v7.2 M146.4,240.4 v7.2" stroke="#1c1c1a" stroke-width="0.9" fill="none"/><ellipse cx="140.2" cy="244.0" rx="2.5" ry="3.9" fill="#d8d8d6" stroke="#1c1c1a" stroke-width="1.4"/><ellipse cx="140.2" cy="244.0" rx="1.0" ry="1.9" fill="#1c1c1a" stroke="none"/></g>
<line x1="633.2" y1="520.7" x2="640.4" y2="517.2" stroke="#1c1c1a" stroke-width="2.4" stroke-linecap="round"/>
<ellipse cx="640.4" cy="517.2" rx="1.6" ry="1.6" transform="rotate(0 640.4 517.2)" fill="#1c1c1a" stroke="#1c1c1a" stroke-width="1.0"/>
<g transform="rotate(-27 627.6 523.6)"><rect x="625.0" y="519.7" width="9.2" height="7.8" rx="1.4" fill="#4a4a48" stroke="#1c1c1a" stroke-width="1.3"/><path d="M627.8,520.0 v7.2 M629.6,520.0 v7.2 M631.4,520.0 v7.2" stroke="#1c1c1a" stroke-width="0.9" fill="none"/><ellipse cx="625.2" cy="523.6" rx="2.5" ry="3.9" fill="#d8d8d6" stroke="#1c1c1a" stroke-width="1.4"/><ellipse cx="625.2" cy="523.6" rx="1.0" ry="1.9" fill="#1c1c1a" stroke="none"/></g>
<polyline points="162.4,294.6 180.5,284.4 184.3,285.4 185.8,287.4 185.8,295.6 183.9,299.2 163.0,311.2" fill="none" stroke="#1c1c1a" stroke-width="2.2" stroke-linejoin="round" stroke-linecap="round" />
<polygon points="164.2,297.4 180.6,288.0 182.8,288.8 183.2,294.8 181.6,297.6 164.2,307.6" fill="none" stroke="#1c1c1a" stroke-width="1.3" stroke-linejoin="round" stroke-linecap="round" />
<path d="M170.2,307.4 q1.5,4.2 6.6,-0.6 z" fill="#1c1c1a" stroke="#1c1c1a" stroke-width="1.6" stroke-linejoin="round" stroke-linecap="round"/>
<polygon points="153.8,293.2 156.0,291.6 160.6,292.6 162.4,294.8 162.2,319.0 157.5,322.4 153.8,319.7" fill="#1c1c1a" stroke="#1c1c1a" stroke-width="2.0" stroke-linejoin="round" stroke-linecap="round" />
<polygon points="158.6,294.0 161.2,295.6 161.2,318.4 158.6,320.4" fill="#fff" stroke="#1c1c1a" stroke-width="0.8" stroke-linejoin="round" stroke-linecap="round" />
<polygon points="155.0,295.6 157.0,296.0 157.0,298.6 155.0,298.2" fill="#fff" stroke="#1c1c1a" stroke-width="0.4" stroke-linejoin="round" stroke-linecap="round" />
<polygon points="155.0,302.0 157.0,302.4 157.0,306.4 155.0,306.0" fill="#fff" stroke="#1c1c1a" stroke-width="0.4" stroke-linejoin="round" stroke-linecap="round" />
<polygon points="155.0,309.4 157.0,309.8 157.0,314.0 155.0,313.6" fill="#fff" stroke="#1c1c1a" stroke-width="0.4" stroke-linejoin="round" stroke-linecap="round" />
<polygon points="155.0,316.6 157.0,317.0 157.0,319.8 155.0,319.4" fill="#fff" stroke="#1c1c1a" stroke-width="0.4" stroke-linejoin="round" stroke-linecap="round" />
<ellipse cx="167.3" cy="302.0" rx="2.2" ry="2.5" transform="rotate(0 167.3 302.0)" fill="none" stroke="#1c1c1a" stroke-width="1.5"/>
<ellipse cx="179.8" cy="294.5" rx="2.0" ry="2.4" transform="rotate(0 179.8 294.5)" fill="none" stroke="#1c1c1a" stroke-width="1.5"/>
<line x1="175.3" y1="294.4" x2="175.3" y2="301.0" stroke="#1c1c1a" stroke-width="2.4" stroke-linecap="round"/>
<line x1="173.6" y1="301.6" x2="177.2" y2="299.8" stroke="#1c1c1a" stroke-width="1.4" stroke-linecap="round"/>
<polyline points="635.3,561.6 653.4,551.4 657.2,552.4 658.7,554.4 658.7,562.6 656.8,566.2 635.9,578.2" fill="none" stroke="#1c1c1a" stroke-width="2.2" stroke-linejoin="round" stroke-linecap="round" />
<polygon points="637.1,564.4 653.5,555.0 655.7,555.8 656.1,561.8 654.5,564.6 637.1,574.6" fill="none" stroke="#1c1c1a" stroke-width="1.3" stroke-linejoin="round" stroke-linecap="round" />
<path d="M643.1,574.4 q1.5,4.2 6.6,-0.6 z" fill="#1c1c1a" stroke="#1c1c1a" stroke-width="1.6" stroke-linejoin="round" stroke-linecap="round"/>
<polygon points="626.7,560.2 628.9,558.6 633.5,559.6 635.3,561.8 635.1,586.0 630.4,589.4 626.7,586.7" fill="#1c1c1a" stroke="#1c1c1a" stroke-width="2.0" stroke-linejoin="round" stroke-linecap="round" />
<polygon points="631.5,561.0 634.1,562.6 634.1,585.4 631.5,587.4" fill="#fff" stroke="#1c1c1a" stroke-width="0.8" stroke-linejoin="round" stroke-linecap="round" />
<polygon points="627.9,562.6 629.9,563.0 629.9,565.6 627.9,565.2" fill="#fff" stroke="#1c1c1a" stroke-width="0.4" stroke-linejoin="round" stroke-linecap="round" />
<polygon points="627.9,569.0 629.9,569.4 629.9,573.4 627.9,573.0" fill="#fff" stroke="#1c1c1a" stroke-width="0.4" stroke-linejoin="round" stroke-linecap="round" />
<polygon points="627.9,576.4 629.9,576.8 629.9,581.0 627.9,580.6" fill="#fff" stroke="#1c1c1a" stroke-width="0.4" stroke-linejoin="round" stroke-linecap="round" />
<polygon points="627.9,583.6 629.9,584.0 629.9,586.8 627.9,586.4" fill="#fff" stroke="#1c1c1a" stroke-width="0.4" stroke-linejoin="round" stroke-linecap="round" />
<ellipse cx="640.2" cy="569.0" rx="2.2" ry="2.5" transform="rotate(0 640.2 569.0)" fill="none" stroke="#1c1c1a" stroke-width="1.5"/>
<ellipse cx="652.7" cy="561.5" rx="2.0" ry="2.4" transform="rotate(0 652.7 561.5)" fill="none" stroke="#1c1c1a" stroke-width="1.5"/>
<line x1="648.2" y1="561.4" x2="648.2" y2="568.0" stroke="#1c1c1a" stroke-width="2.4" stroke-linecap="round"/>
<line x1="646.5" y1="568.6" x2="650.1" y2="566.8" stroke="#1c1c1a" stroke-width="1.4" stroke-linecap="round"/>
<polygon points="631.4,494.0 662.6,476.8 663.5,486.4 632.1,504.2" fill="#1c1c1a" stroke="#1c1c1a" stroke-width="1.6" stroke-linejoin="round" stroke-linecap="round" />
<polygon points="634.5,495.9 647.8,488.4 647.8,487.3 660.6,480.8 660.8,486.9 634.5,501.2" fill="#fff" stroke="#1c1c1a" stroke-width="0.3" stroke-linejoin="round" stroke-linecap="round" />
<polygon points="270.8,425.7 272.0,423.3 274.5,421.5 290.3,411.1 331.6,410.5 338.9,414.8 355.9,407.5 357.7,404.5 359.8,403.2 361.0,406.3 360.8,413.6 340.1,425.1 320.7,437.3 317.0,436.1 312.1,439.1 308.5,438.5 301.8,442.1 297.6,440.9 274.5,428.2 272.0,429.4 270.2,427.6" fill="none" stroke="#1c1c1a" stroke-width="2.0" stroke-linejoin="round" stroke-linecap="round" />
<polyline points="274.5,421.5 301.8,437.3 338.9,417.6" fill="none" stroke="#1c1c1a" stroke-width="1.4" stroke-linejoin="round" stroke-linecap="round" />
<polyline points="301.8,437.3 301.8,442.1" fill="none" stroke="#1c1c1a" stroke-width="1.4" stroke-linejoin="round" stroke-linecap="round" />
<polyline points="338.9,414.8 340.1,425.1" fill="none" stroke="#1c1c1a" stroke-width="1.7" stroke-linejoin="round" stroke-linecap="round" />
<polyline points="340.1,420.0 358.3,410.8" fill="none" stroke="#1c1c1a" stroke-width="1.2" stroke-linejoin="round" stroke-linecap="round" />
<polyline points="327.9,412.7 333.4,416.9 338.9,414.8" fill="none" stroke="#1c1c1a" stroke-width="1.3" stroke-linejoin="round" stroke-linecap="round" />
<polyline points="333.4,416.9 334.0,421.5" fill="none" stroke="#1c1c1a" stroke-width="1.1" stroke-linejoin="round" stroke-linecap="round" />
<polyline points="289.7,421.5 303.6,413.2 326.7,413.0 332.8,415.4" fill="none" stroke="#1c1c1a" stroke-width="1.4" stroke-linejoin="round" stroke-linecap="round" />
<polyline points="296.9,417.3 323.1,416.9" fill="none" stroke="#1c1c1a" stroke-width="2.6" stroke-linejoin="round" stroke-linecap="round" />
<polyline points="293.9,419.3 318.2,418.6" fill="none" stroke="#1c1c1a" stroke-width="1.2" stroke-linejoin="round" stroke-linecap="round" />
<polyline points="291.5,421.0 313.4,420.3" fill="none" stroke="#1c1c1a" stroke-width="1.2" stroke-linejoin="round" stroke-linecap="round" />
<polyline points="289.7,421.5 301.2,427.6 313.4,421.5 323.1,416.9" fill="none" stroke="#1c1c1a" stroke-width="1.4" stroke-linejoin="round" stroke-linecap="round" />
<polyline points="301.2,427.6 303.6,431.8" fill="none" stroke="#1c1c1a" stroke-width="1.2" stroke-linejoin="round" stroke-linecap="round" />
<polyline points="313.4,421.5 316.4,422.9 306.1,430.0" fill="none" stroke="#1c1c1a" stroke-width="1.5" stroke-linejoin="round" stroke-linecap="round" />
<polyline points="313.4,422.9 321.3,427.8" fill="none" stroke="#1c1c1a" stroke-width="1.4" stroke-linejoin="round" stroke-linecap="round" />
<polyline points="320.0,421.5 314.6,429.0" fill="none" stroke="#1c1c1a" stroke-width="1.4" stroke-linejoin="round" stroke-linecap="round" />
<polyline points="323.1,416.9 326.7,421.5 332.8,420.3" fill="none" stroke="#1c1c1a" stroke-width="1.2" stroke-linejoin="round" stroke-linecap="round" />
<ellipse cx="279.9" cy="423.3" rx="1.5" ry="1.1" transform="rotate(-30 279.9 423.3)" fill="none" stroke="#1c1c1a" stroke-width="1.2"/>
<ellipse cx="287.2" cy="425.9" rx="2.1" ry="1.5" transform="rotate(-30 287.2 425.9)" fill="none" stroke="#1c1c1a" stroke-width="1.7"/>
<ellipse cx="298.8" cy="431.8" rx="2.5" ry="1.7" transform="rotate(-30 298.8 431.8)" fill="none" stroke="#1c1c1a" stroke-width="1.9"/>
<polyline points="282.4,421.5 291.5,426.9" fill="none" stroke="#1c1c1a" stroke-width="1.0" stroke-linejoin="round" stroke-linecap="round" />
<polygon points="524.8,566.6 565.4,543.0 568.4,543.5 570.5,545.0 582.8,535.3 583.9,532.2 585.9,531.7 586.9,534.8 589.5,539.4 589.0,542.0 573.8,559.4 574.1,580.0 573.6,582.6 554.6,593.3 552.5,592.3 552.0,587.7 524.8,570.7" fill="none" stroke="#1c1c1a" stroke-width="2.1" stroke-linejoin="round" stroke-linecap="round" />
<polyline points="528.4,567.7 553.5,583.1 571.5,573.8" fill="none" stroke="#1c1c1a" stroke-width="1.4" stroke-linejoin="round" stroke-linecap="round" />
<polyline points="553.5,583.1 554.6,590.8" fill="none" stroke="#1c1c1a" stroke-width="1.4" stroke-linejoin="round" stroke-linecap="round" />
<polyline points="554.6,590.8 573.6,580.5" fill="none" stroke="#1c1c1a" stroke-width="1.2" stroke-linejoin="round" stroke-linecap="round" />
<polyline points="528.4,567.7 548.9,555.8 564.3,548.8" fill="none" stroke="#1c1c1a" stroke-width="1.3" stroke-linejoin="round" stroke-linecap="round" />
<polyline points="557.3,555.8 557.7,571.2" fill="none" stroke="#1c1c1a" stroke-width="2.0" stroke-linejoin="round" stroke-linecap="round" />
<polyline points="563.8,552.2 564.1,568.2" fill="none" stroke="#1c1c1a" stroke-width="2.0" stroke-linejoin="round" stroke-linecap="round" />
<polyline points="571.5,547.8 572.0,573.3" fill="none" stroke="#1c1c1a" stroke-width="2.0" stroke-linejoin="round" stroke-linecap="round" />
<polyline points="560.2,554.8 560.4,569.7" fill="none" stroke="#1c1c1a" stroke-width="1.0" stroke-linejoin="round" stroke-linecap="round" />
<polyline points="566.4,550.7 566.7,566.6" fill="none" stroke="#1c1c1a" stroke-width="1.0" stroke-linejoin="round" stroke-linecap="round" />
<polyline points="565.4,543.0 565.9,549.2 571.5,547.8" fill="none" stroke="#1c1c1a" stroke-width="1.3" stroke-linejoin="round" stroke-linecap="round" />
<polyline points="548.9,557.9 565.9,549.2" fill="none" stroke="#1c1c1a" stroke-width="1.6" stroke-linejoin="round" stroke-linecap="round" />
<polyline points="572.0,548.1 584.4,537.8" fill="none" stroke="#1c1c1a" stroke-width="1.2" stroke-linejoin="round" stroke-linecap="round" />
<polyline points="573.8,549.7 573.8,559.4" fill="none" stroke="#1c1c1a" stroke-width="1.6" stroke-linejoin="round" stroke-linecap="round" />
<polyline points="575.1,555.8 588.2,540.9" fill="none" stroke="#1c1c1a" stroke-width="1.1" stroke-linejoin="round" stroke-linecap="round" />
<polyline points="548.9,557.9 548.9,565.6 544.8,568.2 544.8,573.3" fill="none" stroke="#1c1c1a" stroke-width="1.9" stroke-linejoin="round" stroke-linecap="round" />
<polyline points="545.8,570.2 552.5,566.6" fill="none" stroke="#1c1c1a" stroke-width="3.0" stroke-linejoin="round" stroke-linecap="round" />
<ellipse cx="535.0" cy="568.7" rx="2.3" ry="1.8" transform="rotate(-30 535.0 568.7)" fill="none" stroke="#1c1c1a" stroke-width="1.5"/>
<ellipse cx="547.9" cy="574.5" rx="2.3" ry="1.8" transform="rotate(-30 547.9 574.5)" fill="none" stroke="#1c1c1a" stroke-width="1.5"/>
<ellipse cx="554.6" cy="580.5" rx="2.1" ry="1.6" transform="rotate(-30 554.6 580.5)" fill="none" stroke="#1c1c1a" stroke-width="1.4"/>
<ellipse cx="550.5" cy="558.1" rx="1.3" ry="1.1" transform="rotate(-30 550.5 558.1)" fill="none" stroke="#1c1c1a" stroke-width="1.2"/>
<ellipse cx="556.1" cy="555.4" rx="1.3" ry="1.1" transform="rotate(-30 556.1 555.4)" fill="none" stroke="#1c1c1a" stroke-width="1.2"/>
<ellipse cx="561.8" cy="552.7" rx="1.3" ry="1.1" transform="rotate(-30 561.8 552.7)" fill="none" stroke="#1c1c1a" stroke-width="1.2"/>
<ellipse cx="566.4" cy="549.5" rx="1.3" ry="1.1" transform="rotate(-30 566.4 549.5)" fill="none" stroke="#1c1c1a" stroke-width="1.2"/>
<polyline points="538.6,570.2 540.7,573.8 545.8,576.4" fill="none" stroke="#1c1c1a" stroke-width="1.2" stroke-linejoin="round" stroke-linecap="round" />
</svg>
</body></html>
